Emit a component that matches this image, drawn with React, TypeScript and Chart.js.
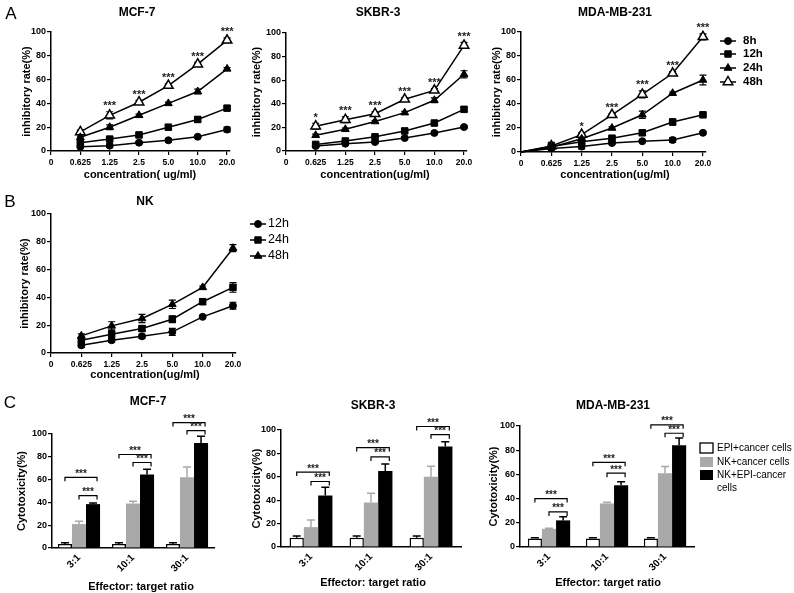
import React, { useEffect, useRef } from 'react';
import { Chart, registerables } from 'chart.js';

Chart.register(...registerables);

const FONT = '"Liberation Sans", Arial, Helvetica, sans-serif';

// ---------------- data ----------------
const concLabels = ['0', '0.625', '1.25', '2.5', '5.0', '10.0', '20.0'];
const concIdx = [1, 2, 3, 4, 5, 6];
const concIdxZero = [0, 1, 2, 3, 4, 5, 6];
const yTicks = [0, 20, 40, 60, 80, 100];

const timesA = ['8h', '12h', '24h', '48h'];
const timesB = ['12h', '24h', '48h'];

// Panel A: MCF-7
const mcf7_8h = [3.5, 4.5, 7, 9, 12, 18];
const mcf7_12h = [7, 10, 13.5, 20, 26.5, 36];
const mcf7_24h = [11.5, 20, 30, 40, 50, 69];
const mcf7_48h = [16, 30, 41, 55, 73, 93];
const mcf7_8h_err = [1, 1.5, 1, 1.5, 1, 2];
const mcf7_12h_err = [1, 2, 1.5, 1.5, 2, 1.5];
const mcf7_24h_err = [1, 2, 1, 1, 2, 1];
const mcf7_48h_err = [1.5, 3, 1.5, 1.5, 1.5, 2];
const mcf7_stars = ['', '***', '***', '***', '***', '***'];

// Panel A: SKBR-3
const skbr_8h = [4.2, 6.2, 7.6, 11, 15.3, 20.3];
const skbr_12h = [5.6, 8.5, 12, 17, 23.7, 35.3];
const skbr_24h = [13.3, 18.4, 25, 32.5, 43, 65];
const skbr_48h = [21, 26.5, 31.6, 43.8, 51.4, 89.5];
const skbr_8h_err = [1, 1, 1, 1, 1, 1];
const skbr_12h_err = [1, 1, 1, 1.5, 1, 2];
const skbr_24h_err = [1, 1, 1, 1, 2, 3];
const skbr_48h_err = [2.5, 2.5, 1.5, 1.5, 1.5, 2.5];
const skbr_stars = ['*', '***', '***', '***', '***', '***'];

// Panel A: MDA-MB-231 (starts at origin)
const mda_8h = [0, 3, 4.5, 7.5, 9, 10, 16];
const mda_12h = [0, 4.5, 8.5, 11.5, 16, 25, 31];
const mda_24h = [0, 4, 11, 20, 31, 49, 60];
const mda_48h = [0, 5, 14.5, 31, 48, 65.6, 96];
const mda_8h_err = [0, 1, 2, 1, 1, 2, 1];
const mda_12h_err = [0, 1.5, 1.5, 1.5, 2, 2.5, 1];
const mda_24h_err = [0, 1.5, 1.5, 1, 3, 1, 4];
const mda_48h_err = [0, 3, 1.5, 1, 3, 1.5, 2.5];
const mda_stars = ['', '', '*', '***', '***', '***', '***'];

// Panel B: NK
const nk_12h = [5.5, 9.2, 12, 15.2, 26, 34];
const nk_24h = [9.2, 13.5, 17.6, 24.3, 36.9, 47.2];
const nk_48h = [12.3, 19.5, 24.8, 35, 47.2, 75.4];
const nk_12h_err = [1.5, 1.5, 1.5, 2.5, 1, 2.5];
const nk_24h_err = [1.5, 3, 2, 2.5, 2, 3.5];
const nk_48h_err = [1.5, 3, 3, 3, 1, 2.5];

// Panel C
const ratioLabels = ['3:1', '10:1', '30:1'];
const groupLabels = ['EPI+cancer cells', 'NK+cancer cells', 'NK+EPI-cancer cells'];

const cMcf7Epi = [3.5, 3.5, 3.5];
const cMcf7EpiErr = [1, 1, 1];
const cMcf7Nk = [21, 39, 62];
const cMcf7NkErr = [2.5, 2, 9];
const cMcf7NkEpi = [38.5, 64.5, 92];
const cMcf7NkEpiErr = [1, 4.5, 6];
const cMcf7Outer = [62, 82, 110];
const cMcf7Inner = [46, 75, 103];

const cSkbrEpi = [8, 8, 8];
const cSkbrEpiErr = [1.5, 1.5, 1.5];
const cSkbrNk = [17, 38, 60];
const cSkbrNkErr = [6, 8, 9];
const cSkbrNkEpi = [44, 65, 86];
const cSkbrNkEpiErr = [7, 6, 4];
const cSkbrOuter = [64, 85, 103];
const cSkbrInner = [56, 77, 96];

const cMdaEpi = [7, 7, 7];
const cMdaEpiErr = [0.7, 0.7, 0.7];
const cMdaNk = [15, 36, 61];
const cMdaNkErr = [0.5, 1, 5.5];
const cMdaNkEpi = [22, 51, 84];
const cMdaNkEpiErr = [3, 3, 6];
const cMdaOuter = [40, 70, 101];
const cMdaInner = [29, 61, 94];

// ---------------- helpers ----------------
type Geo = { w: number; h: number; l: number; r: number; t: number; b: number };
type Txt = { text: string; x: number; y: number; size: number; bold?: boolean; rot?: boolean };
type Style = 'circle' | 'square' | 'triangle' | 'open' | 'boxWhite' | 'boxGray' | 'boxBlack';
type Legend = { mx: number; tx: number; rows: number[]; items: { lines: string[]; style: Style }[]; size: number; bold: boolean };
type Extras = {
  kind: 'line' | 'bar';
  texts: Txt[];
  stars?: { ds: number; marks: string[] };
  legend?: Legend;
  brackets?: { outer: number[]; inner: number[] };
};

const GRAY = '#a9a9a9';

function t(text: string, x: number, y: number, size: number, bold = true, rot = false): Txt {
  return { text, x, y, size, bold, rot };
}

function markerPath(ctx: CanvasRenderingContext2D, style: Style, x: number, y: number) {
  ctx.beginPath();
  if (style === 'circle') {
    ctx.arc(x, y, 3.5, 0, Math.PI * 2);
  } else if (style === 'square') {
    ctx.rect(x - 3.2, y - 3.2, 6.4, 6.4);
  } else {
    const r = style === 'open' ? 5.5 : 4.5;
    ctx.moveTo(x, y - r);
    ctx.lineTo(x + r * 0.866, y + r * 0.5);
    ctx.lineTo(x - r * 0.866, y + r * 0.5);
    ctx.closePath();
  }
}

function extras(cfg: Extras) {
  return {
    id: 'extras',
    beforeDatasetsDraw(chart: any) {
      if (cfg.kind !== 'line') return;
      const ctx = chart.ctx as CanvasRenderingContext2D;
      const ys = chart.scales.y;
      chart.data.datasets.forEach((ds: any, di: number) => {
        const meta = chart.getDatasetMeta(di);
        ctx.save();
        ctx.strokeStyle = '#000';
        ctx.lineWidth = 1.2;
        meta.data.forEach((el: any, j: number) => {
          const e = ds.errors[j];
          if (!e) return;
          const v = ds.data[j].y;
          const y1 = ys.getPixelForValue(v + e);
          const y2 = ys.getPixelForValue(v - e);
          ctx.beginPath();
          ctx.moveTo(el.x, y1);
          ctx.lineTo(el.x, y2);
          ctx.moveTo(el.x - 3.5, y1);
          ctx.lineTo(el.x + 3.5, y1);
          ctx.moveTo(el.x - 3.5, y2);
          ctx.lineTo(el.x + 3.5, y2);
          ctx.stroke();
        });
        ctx.restore();
      });
    },
    afterDatasetsDraw(chart: any) {
      const ctx = chart.ctx as CanvasRenderingContext2D;
      const ys = chart.scales.y;
      if (cfg.kind === 'bar') {
        chart.data.datasets.forEach((ds: any, di: number) => {
          const meta = chart.getDatasetMeta(di);
          ctx.save();
          ctx.strokeStyle = ds.errColor;
          ctx.lineWidth = 1.5;
          meta.data.forEach((el: any, j: number) => {
            const v = ds.data[j];
            const e = ds.errors[j];
            const yTop = ys.getPixelForValue(v + e);
            ctx.beginPath();
            ctx.moveTo(el.x, el.y);
            ctx.lineTo(el.x, yTop);
            ctx.moveTo(el.x - 4, yTop);
            ctx.lineTo(el.x + 4, yTop);
            ctx.stroke();
          });
          ctx.restore();
        });
        if (cfg.brackets) {
          const m0 = chart.getDatasetMeta(0);
          const m1 = chart.getDatasetMeta(1);
          const m2 = chart.getDatasetMeta(2);
          ctx.save();
          ctx.strokeStyle = '#000';
          ctx.fillStyle = '#222';
          ctx.lineWidth = 1.2;
          ctx.font = `bold 10px ${FONT}`;
          ctx.textAlign = 'center';
          ctx.textBaseline = 'alphabetic';
          const br = (x1: number, x2: number, y: number) => {
            ctx.beginPath();
            ctx.moveTo(x1, y + 4);
            ctx.lineTo(x1, y);
            ctx.lineTo(x2, y);
            ctx.lineTo(x2, y + 4);
            ctx.stroke();
            ctx.fillText('***', (x1 + x2) / 2, y - 0.5);
          };
          cfg.brackets.outer.forEach((v, j) => br(m0.data[j].x, m2.data[j].x + 4, ys.getPixelForValue(v)));
          cfg.brackets.inner.forEach((v, j) => br(m1.data[j].x, m2.data[j].x + 4, ys.getPixelForValue(v)));
          ctx.restore();
        }
      }
      if (cfg.stars) {
        const ds = chart.data.datasets[cfg.stars.ds];
        const meta = chart.getDatasetMeta(cfg.stars.ds);
        ctx.save();
        ctx.fillStyle = '#222';
        ctx.font = `bold 11px ${FONT}`;
        ctx.textAlign = 'center';
        ctx.textBaseline = 'alphabetic';
        cfg.stars.marks.forEach((m, j) => {
          if (!m) return;
          const el = meta.data[j];
          const v = ds.data[j].y + (ds.errors[j] || 0);
          ctx.fillText(m, el.x, ys.getPixelForValue(v) - 2.7);
        });
        ctx.restore();
      }
    },
    afterDraw(chart: any) {
      const ctx = chart.ctx as CanvasRenderingContext2D;
      ctx.save();
      ctx.fillStyle = '#000';
      cfg.texts.forEach((tx) => {
        ctx.save();
        ctx.font = `${tx.bold ? 'bold ' : ''}${tx.size}px ${FONT}`;
        ctx.textAlign = 'center';
        ctx.textBaseline = 'middle';
        ctx.translate(tx.x, tx.y);
        if (tx.rot) ctx.rotate(-Math.PI / 2);
        ctx.fillText(tx.text, 0, 0);
        ctx.restore();
      });
      const L = cfg.legend;
      if (L) {
        ctx.font = `${L.bold ? 'bold ' : ''}${L.size}px ${FONT}`;
        ctx.textAlign = 'left';
        ctx.textBaseline = 'middle';
        L.items.forEach((it, i) => {
          const y = L.rows[i];
          if (it.style.startsWith('box')) {
            ctx.fillStyle = it.style === 'boxWhite' ? '#fff' : it.style === 'boxGray' ? GRAY : '#000';
            ctx.fillRect(L.mx - 6.5, y - 5, 13, 10);
            if (it.style === 'boxWhite') {
              ctx.strokeStyle = '#000';
              ctx.lineWidth = 1.3;
              ctx.strokeRect(L.mx - 6.5, y - 5, 13, 10);
            }
          } else {
            ctx.strokeStyle = '#000';
            ctx.lineWidth = 1.5;
            ctx.beginPath();
            ctx.moveTo(L.mx - 8, y);
            ctx.lineTo(L.mx + 8, y);
            ctx.stroke();
            markerPath(ctx, it.style, L.mx, y);
            ctx.fillStyle = it.style === 'open' ? '#fff' : '#000';
            ctx.fill();
            ctx.lineWidth = it.style === 'open' ? 1.5 : 1;
            ctx.stroke();
          }
          ctx.fillStyle = '#000';
          it.lines.forEach((ln, k) => ctx.fillText(ln, L.tx, y + k * 13));
        });
      }
      ctx.restore();
    },
  };
}

const tickFont = (size: number) => ({ family: FONT, size, weight: 'bold' as const });
const gridOpts = { drawOnChartArea: false, drawTicks: true, tickLength: 4, color: '#000', lineWidth: 1.2 };
const borderOpts = { display: true, color: '#000', width: 1.5 };

function yScale(geo: Geo) {
  return {
    type: 'linear',
    min: 0,
    max: 100,
    afterBuildTicks: (s: any) => {
      s.ticks = yTicks.map((v) => ({ value: v }));
    },
    ticks: { color: '#000', font: tickFont(9), padding: 1 },
    grid: gridOpts,
    border: borderOpts,
    afterFit: (s: any) => {
      s.width = geo.l;
      s.paddingTop = 0;
      s.paddingBottom = 0;
    },
  };
}

function concScale(geo: Geo) {
  return {
    type: 'linear',
    min: 0,
    max: 6.1,
    afterBuildTicks: (s: any) => {
      s.ticks = concLabels.map((_, i) => ({ value: i }));
    },
    ticks: {
      color: '#000',
      font: tickFont(8.5),
      padding: 3,
      autoSkip: false,
      maxRotation: 0,
      minRotation: 0,
      callback: (v: any) => concLabels[v] ?? '',
    },
    grid: gridOpts,
    border: borderOpts,
    afterFit: (s: any) => {
      s.height = geo.h - geo.b;
      s.paddingLeft = 0;
      s.paddingRight = 0;
    },
  };
}

function ratioScale(geo: Geo) {
  return {
    type: 'category',
    offset: true,
    ticks: { color: '#000', font: tickFont(10), padding: 4, autoSkip: false, minRotation: 45, maxRotation: 45 },
    grid: { display: true, drawOnChartArea: false, drawTicks: false, color: '#000' },
    border: borderOpts,
    afterFit: (s: any) => {
      s.height = geo.h - geo.b;
      s.paddingLeft = 0;
      s.paddingRight = 0;
    },
  };
}

function lineDs(label: string, xs: number[], ys: number[], errs: number[], style: Style, hideFirst = false) {
  const r = style === 'circle' ? 3.5 : style === 'square' ? 4.6 : style === 'triangle' ? 4.5 : 5.5;
  return {
    label,
    data: ys.map((v, i) => ({ x: xs[i], y: v })),
    errors: errs,
    borderColor: '#000',
    borderWidth: 1.5,
    tension: 0,
    fill: false,
    clip: false,
    pointStyle: style === 'circle' ? 'circle' : style === 'square' ? 'rect' : 'triangle',
    pointRadius: ys.map((_, i) => (hideFirst && i === 0 ? 0 : r)),
    pointBackgroundColor: style === 'open' ? '#fff' : '#000',
    pointBorderColor: '#000',
    pointBorderWidth: style === 'open' ? 1.5 : 1,
  };
}

function baseOptions(geo: Geo, x: any) {
  return {
    responsive: false,
    animation: false,
    events: [],
    layout: { padding: { left: 0, top: geo.t, right: geo.w - geo.r, bottom: 0 } },
    plugins: { legend: { display: false }, tooltip: { enabled: false }, title: { display: false } },
    scales: { x, y: yScale(geo) },
  };
}

function lineConfig(geo: Geo, datasets: any[], ex: Extras) {
  return {
    type: 'line',
    data: { datasets },
    options: baseOptions(geo, concScale(geo)),
    plugins: [extras(ex)],
  };
}

function barConfig(geo: Geo, cp: number, vals: number[][], errs: number[][], ex: Extras) {
  const fills = ['#fff', GRAY, '#000'];
  const errCols = ['#000', GRAY, '#000'];
  const datasets = vals.map((v, i) => ({
    label: groupLabels[i],
    data: v,
    errors: errs[i],
    errColor: errCols[i],
    backgroundColor: fills[i],
    borderColor: '#000',
    borderWidth: i === 0 ? 1.5 : 0,
    categoryPercentage: cp,
    barPercentage: 1,
  }));
  return {
    type: 'bar',
    data: { labels: ratioLabels, datasets },
    options: baseOptions(geo, ratioScale(geo)),
    plugins: [extras(ex)],
  };
}

// ---------------- geometry ----------------
const gA1: Geo = { w: 245, h: 185, l: 51, r: 230, t: 32, b: 151 };
const gA2: Geo = { w: 240, h: 185, l: 41, r: 222, t: 33, b: 151 };
const gA3: Geo = { w: 309, h: 185, l: 36, r: 221, t: 32, b: 152 };
const gB: Geo = { w: 330, h: 200, l: 51, r: 236, t: 29, b: 168 };
const gC1: Geo = { w: 240, h: 208, l: 52, r: 214, t: 49, b: 163 };
const gC2: Geo = { w: 240, h: 208, l: 41, r: 221, t: 45, b: 162 };
const gC3: Geo = { w: 314, h: 208, l: 40, r: 214, t: 41, b: 162 };

const legendA: Legend = {
  mx: 243,
  tx: 258,
  rows: [41, 54, 68, 82],
  size: 11.5,
  bold: true,
  items: [
    { lines: [timesA[0]], style: 'circle' },
    { lines: [timesA[1]], style: 'square' },
    { lines: [timesA[2]], style: 'triangle' },
    { lines: [timesA[3]], style: 'open' },
  ],
};
const legendB: Legend = {
  mx: 258,
  tx: 268,
  rows: [39, 55, 71],
  size: 12.5,
  bold: false,
  items: [
    { lines: [timesB[0]], style: 'circle' },
    { lines: [timesB[1]], style: 'square' },
    { lines: [timesB[2]], style: 'triangle' },
  ],
};
const legendC: Legend = {
  mx: 226.5,
  tx: 237,
  rows: [63, 77, 90],
  size: 10,
  bold: false,
  items: [
    { lines: [groupLabels[0]], style: 'boxWhite' },
    { lines: [groupLabels[1]], style: 'boxGray' },
    { lines: ['NK+EPI-cancer', 'cells'], style: 'boxBlack' },
  ],
};

const cfgA1 = () =>
  lineConfig(
    gA1,
    [
      lineDs(timesA[0], concIdx, mcf7_8h, mcf7_8h_err, 'circle'),
      lineDs(timesA[1], concIdx, mcf7_12h, mcf7_12h_err, 'square'),
      lineDs(timesA[2], concIdx, mcf7_24h, mcf7_24h_err, 'triangle'),
      lineDs(timesA[3], concIdx, mcf7_48h, mcf7_48h_err, 'open'),
    ],
    {
      kind: 'line',
      stars: { ds: 3, marks: mcf7_stars },
      texts: [
        t('A', 11, 14, 17, false),
        t('MCF-7', 137, 13, 12),
        t('inhibitory rate(%)', 27, 91.5, 11, true, true),
        t('concentration( ug/ml)', 140, 175, 11),
      ],
    }
  );

const cfgA2 = () =>
  lineConfig(
    gA2,
    [
      lineDs(timesA[0], concIdx, skbr_8h, skbr_8h_err, 'circle'),
      lineDs(timesA[1], concIdx, skbr_12h, skbr_12h_err, 'square'),
      lineDs(timesA[2], concIdx, skbr_24h, skbr_24h_err, 'triangle'),
      lineDs(timesA[3], concIdx, skbr_48h, skbr_48h_err, 'open'),
    ],
    {
      kind: 'line',
      stars: { ds: 3, marks: skbr_stars },
      texts: [
        t('SKBR-3', 133, 13, 12),
        t('inhibitory rate(%)', 12, 92, 11, true, true),
        t('concentration(ug/ml)', 130, 175, 11),
      ],
    }
  );

const cfgA3 = () =>
  lineConfig(
    gA3,
    [
      lineDs(timesA[0], concIdxZero, mda_8h, mda_8h_err, 'circle', true),
      lineDs(timesA[1], concIdxZero, mda_12h, mda_12h_err, 'square', true),
      lineDs(timesA[2], concIdxZero, mda_24h, mda_24h_err, 'triangle', true),
      lineDs(timesA[3], concIdxZero, mda_48h, mda_48h_err, 'open', true),
    ],
    {
      kind: 'line',
      stars: { ds: 3, marks: mda_stars },
      legend: legendA,
      texts: [
        t('MDA-MB-231', 130, 13, 12),
        t('inhibitory rate(%)', 12, 92, 11, true, true),
        t('concentration(ug/ml)', 130, 175, 11),
      ],
    }
  );

const cfgB = () =>
  lineConfig(
    gB,
    [
      lineDs(timesB[0], concIdx, nk_12h, nk_12h_err, 'circle'),
      lineDs(timesB[1], concIdx, nk_24h, nk_24h_err, 'square'),
      lineDs(timesB[2], concIdx, nk_48h, nk_48h_err, 'triangle'),
    ],
    {
      kind: 'line',
      legend: legendB,
      texts: [
        t('B', 10, 17, 17, false),
        t('NK', 145, 17, 12),
        t('inhibitory rate(%)', 25, 98.5, 11, true, true),
        t('concentration(ug/ml)', 145, 190, 11),
      ],
    }
  );

const cfgC1 = () =>
  barConfig(gC1, 0.78, [cMcf7Epi, cMcf7Nk, cMcf7NkEpi], [cMcf7EpiErr, cMcf7NkErr, cMcf7NkEpiErr], {
    kind: 'bar',
    brackets: { outer: cMcf7Outer, inner: cMcf7Inner },
    texts: [
      t('C', 10, 18, 17, false),
      t('MCF-7', 148, 17, 12),
      t('Cytotoxicity(%)', 22, 106, 11, true, true),
      t('Effector: target ratio', 141, 202, 11),
    ],
  });

const cfgC2 = () =>
  barConfig(gC2, 0.715, [cSkbrEpi, cSkbrNk, cSkbrNkEpi], [cSkbrEpiErr, cSkbrNkErr, cSkbrNkEpiErr], {
    kind: 'bar',
    brackets: { outer: cSkbrOuter, inner: cSkbrInner },
    texts: [
      t('SKBR-3', 133, 21, 12),
      t('Cytotoxicity(%)', 17, 103.5, 11, true, true),
      t('Effector: target ratio', 133, 198, 11),
    ],
  });

const cfgC3 = () =>
  barConfig(gC3, 0.73, [cMdaEpi, cMdaNk, cMdaNkEpi], [cMdaEpiErr, cMdaNkErr, cMdaNkEpiErr], {
    kind: 'bar',
    brackets: { outer: cMdaOuter, inner: cMdaInner },
    legend: legendC,
    texts: [
      t('MDA-MB-231', 133, 21, 12),
      t('Cytotoxicity(%)', 14, 101.5, 11, true, true),
      t('Effector: target ratio', 128, 198, 11),
    ],
  });

function ChartBox({ x, y, geo, config }: { x: number; y: number; geo: Geo; config: () => any }) {
  const ref = useRef<HTMLCanvasElement>(null);
  useEffect(() => {
    const c = new Chart(ref.current as HTMLCanvasElement, config());
    return () => c.destroy();
  }, []);
  return (
    <canvas
      ref={ref}
      width={geo.w}
      height={geo.h}
      style={{ position: 'absolute', left: x, top: y, width: geo.w, height: geo.h, display: 'block' }}
    />
  );
}

export default function App() {
  return (
    <div style={{ position: 'absolute', left: 0, top: 0, width: 794, height: 593, background: '#fff', overflow: 'hidden' }}>
      <ChartBox x={0} y={0} geo={gA1} config={cfgA1} />
      <ChartBox x={245} y={0} geo={gA2} config={cfgA2} />
      <ChartBox x={485} y={0} geo={gA3} config={cfgA3} />
      <ChartBox x={0} y={185} geo={gB} config={cfgB} />
      <ChartBox x={0} y={385} geo={gC1} config={cfgC1} />
      <ChartBox x={240} y={385} geo={gC2} config={cfgC2} />
      <ChartBox x={480} y={385} geo={gC3} config={cfgC3} />
    </div>
  );
}
